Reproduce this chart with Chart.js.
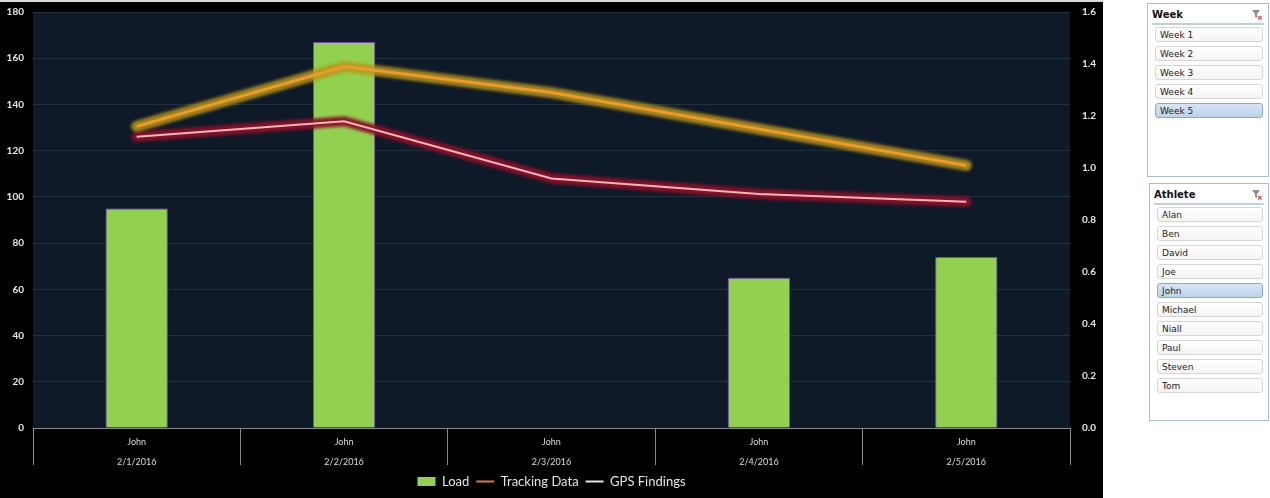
<!DOCTYPE html>
<html>
<head>
<meta charset="utf-8">
<script src="https://cdn.jsdelivr.net/npm/chart.js@4.4.1/dist/chart.umd.min.js"></script>
<style>
  html, body { margin: 0; padding: 0; background: #fff; width: 1270px; height: 498px; overflow: hidden; }
  #topline { position: absolute; left: 0; top: 0; width: 1103px; height: 2px; background: #d9d9d9; }
  #wrap { position: absolute; left: 0; top: 2px; width: 1103px; height: 496px; background: #000; }
  #c { display: block; }
  .slicer { position: absolute; border: 1px solid #a8bdd6; background: #fff; font-family: "DejaVu Sans", sans-serif; }
  .slicer .hdr { position: absolute; left: 4px; top: 4px; right: 4px; height: 15px; border-bottom: 2px solid #bcd0e4;
                 font-weight: bold; font-size: 10px; color: #111; line-height: 14px; }
  .slicer .hdr svg { position: absolute; right: 2px; top: 2px; }
  .slicer .item { position: absolute; left: 7px; right: 5px; height: 15px; border: 1px solid #d6d6d6; border-radius: 3px;
                  background: linear-gradient(#ffffff, #f4f4f4); font-size: 9px; color: #222; line-height: 15px; padding-left: 4px; box-sizing: border-box; }
  .slicer .item.sel { background: linear-gradient(#d6e5f5, #bcd3ec); border-color: #86a9d0; }
</style>
</head>
<body>
<div id="topline"></div>
<div id="wrap"><canvas id="c" width="1103" height="496"></canvas></div>
<div class="slicer" id="weekSlicer" style="left:1147px; top:3px; width:120px; height:172px;"></div>
<div class="slicer" id="athleteSlicer" style="left:1149px; top:183px; width:118px; height:236px;"></div>

<script>
// Category axis: athlete and session date (two-line labels)
const athletes = ['John', 'John', 'John', 'John', 'John'];
const sessionDates = ['2/1/2016', '2/2/2016', '2/3/2016', '2/4/2016', '2/5/2016'];

// Series values
const loadValues = [95, 167, null, 65, 74];            // left axis
const trackingValues = [1.16, 1.39, 1.29, 1.15, 1.01]; // right axis
const gpsValues = [1.12, 1.18, 0.96, 0.90, 0.87];      // right axis

// Slicer entries
const weekOptions = ['Week 1', 'Week 2', 'Week 3', 'Week 4', 'Week 5'];
const selectedWeek = 'Week 5';
const athleteOptions = ['Alan', 'Ben', 'David', 'Joe', 'John', 'Michael', 'Niall', 'Paul', 'Steven', 'Tom'];
const selectedAthlete = 'John';

const categoryLabels = athletes.map((a, i) => [a, sessionDates[i]]);
const legendOrder = ['Load', 'Tracking Data', 'GPS Findings'];

// Dark navy plot area
const plotBackground = {
  id: 'plotBackground',
  beforeDraw(chart) {
    const { ctx, chartArea: a } = chart;
    ctx.save();
    ctx.fillStyle = '#0f1a29';
    ctx.fillRect(a.left, a.top, a.right - a.left, a.bottom - a.top);
    ctx.restore();
  }
};

// Soft glow under lines and around bars
const glow = {
  id: 'glow',
  beforeDatasetDraw(chart, args) {
    const ds = chart.data.datasets[args.index];
    const ctx = chart.ctx;
    if (ds.type === 'bar') {
      ctx.save();
      ctx.shadowColor = 'rgba(125, 75, 200, 1)';
      ctx.shadowBlur = 8;
      return;
    }
    if (!ds.glowColor) return;
    const pts = args.meta.data;
    ctx.save();
    ctx.filter = 'blur(1.8px)';
    ctx.lineJoin = 'round';
    ctx.lineCap = 'round';
    ctx.strokeStyle = ds.glowColor;
    ctx.lineWidth = ds.glowWidth;
    ctx.beginPath();
    pts.forEach((p, i) => { if (i === 0) ctx.moveTo(p.x, p.y); else ctx.lineTo(p.x, p.y); });
    ctx.stroke();
    ctx.restore();
  },
  afterDatasetDraw(chart, args) {
    const ds = chart.data.datasets[args.index];
    if (ds.type === 'bar') chart.ctx.restore();
  }
};

const tickFont = { family: 'Lato, "Open Sans", sans-serif', size: 10, weight: 'bold' };

new Chart(document.getElementById('c'), {
  data: {
    labels: categoryLabels,
    datasets: [
      {
        type: 'line', label: 'Tracking Data', data: trackingValues, yAxisID: 'y1',
        borderColor: '#ee9a2a', borderWidth: 3, pointRadius: 0, tension: 0,
        glowColor: 'rgba(185, 150, 25, 0.85)', glowWidth: 11,
        legendColor: '#e8743a', pointStyle: 'line', order: 1
      },
      {
        type: 'line', label: 'GPS Findings', data: gpsValues, yAxisID: 'y1',
        borderColor: '#f2b9b9', borderWidth: 2, pointRadius: 0, tension: 0,
        glowColor: 'rgba(140, 15, 40, 0.95)', glowWidth: 10,
        legendColor: '#e6e6e6', pointStyle: 'line', order: 2
      },
      {
        type: 'bar', label: 'Load', data: loadValues, yAxisID: 'y',
        backgroundColor: '#92d050', borderColor: 'rgba(125, 85, 175, 0.9)', borderWidth: 1,
        barPercentage: 0.3, categoryPercentage: 1, pointStyle: 'rect', order: 3
      }
    ]
  },
  options: {
    responsive: false,
    animation: false,
    devicePixelRatio: 1,
    layout: { padding: { top: 10, bottom: 0, left: 0, right: 0 } },
    scales: {
      x: {
        type: 'category',
        offset: true,
        grid: { offset: true, drawOnChartArea: false, drawTicks: true, tickLength: 37, color: '#8a8a8a', lineWidth: 1 },
        border: { display: true, color: '#8a8a8a', width: 1 },
        ticks: {
          color: '#dcdcdc', padding: -33, maxRotation: 0,
          font: { family: 'Lato, "Open Sans", sans-serif', size: 9, lineHeight: 2.2 }
        },
        afterFit(scale) { scale.height = 40; }
      },
      y: {
        position: 'left', min: 0, max: 180,
        ticks: { stepSize: 20, color: '#e6e6e6', padding: 0, font: tickFont },
        grid: { color: '#22303f', lineWidth: 1, drawTicks: true, tickLength: 9, tickColor: 'rgba(0,0,0,0)' },
        border: { display: false },
        afterFit(scale) { scale.width = 33; }
      },
      y1: {
        position: 'right', min: 0, max: 1.6,
        ticks: { stepSize: 0.2, color: '#e6e6e6', padding: 0, font: tickFont,
                 callback: v => Number(v).toFixed(1) },
        grid: { drawOnChartArea: false, drawTicks: true, tickLength: 12, tickColor: 'rgba(0,0,0,0)' },
        border: { display: false },
        afterFit(scale) { scale.width = 33; }
      }
    },
    plugins: {
      legend: {
        position: 'bottom',
        labels: {
          color: '#e4e4e4',
          font: { family: 'Lato, "Open Sans", sans-serif', size: 13 },
          usePointStyle: true, pointStyleWidth: 18, boxHeight: 9, padding: 7,
          sort: (a, b) => legendOrder.indexOf(a.text) - legendOrder.indexOf(b.text),
          generateLabels(chart) {
            const items = Chart.defaults.plugins.legend.labels.generateLabels(chart);
            items.forEach(it => {
              const ds = chart.data.datasets[it.datasetIndex];
              if (ds.legendColor) { it.strokeStyle = ds.legendColor; it.lineWidth = 2; }
              if (ds.type === 'bar') { it.strokeStyle = ds.backgroundColor; it.lineWidth = 0; }
            });
            return items;
          }
        }
      },
      tooltip: { enabled: false }
    }
  },
  plugins: [plotBackground, glow]
});

// Slicer panels
function buildSlicer(el, title, options, selected) {
  const hdr = document.createElement('div');
  hdr.className = 'hdr';
  hdr.textContent = title;
  hdr.insertAdjacentHTML('beforeend',
    '<svg width="10" height="10" viewBox="0 0 10 10"><path d="M0 0H8L5 4V8L3 7V4Z" fill="#8e8e8e"/><path d="M6 6L9.5 9.5M9.5 6L6 9.5" stroke="#d9534f" stroke-width="1.3"/></svg>');
  el.appendChild(hdr);
  options.forEach((name, i) => {
    const it = document.createElement('div');
    it.className = 'item' + (name === selected ? ' sel' : '');
    it.style.top = (23 + i * 19) + 'px';
    it.textContent = name;
    el.appendChild(it);
  });
}
buildSlicer(document.getElementById('weekSlicer'), 'Week', weekOptions, selectedWeek);
buildSlicer(document.getElementById('athleteSlicer'), 'Athlete', athleteOptions, selectedAthlete);
</script>
</body>
</html>
